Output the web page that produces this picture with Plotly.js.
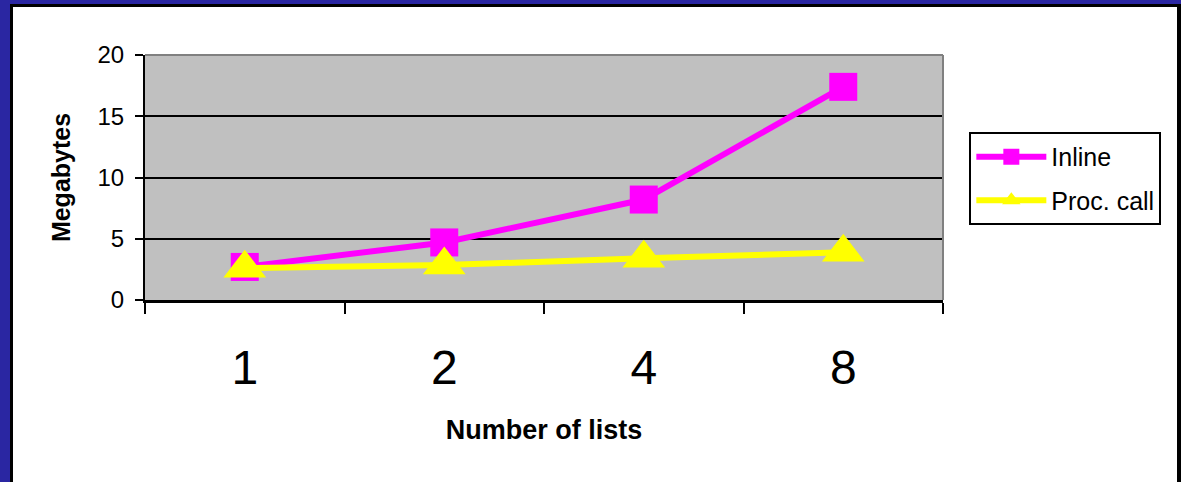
<!DOCTYPE html>
<html>
<head>
<meta charset="utf-8">
<script src="https://cdn.plot.ly/plotly-3.0.1.min.js"></script>
<style>
  html, body { margin: 0; padding: 0; width: 1181px; height: 482px; overflow: hidden; background: #ffffff; }
  #chart { position: absolute; left: 0; top: 0; width: 1181px; height: 482px; }
  .fr { position: absolute; }
</style>
</head>
<body>
<div id="chart"></div>
<div class="fr" style="left:0;top:0;width:10px;height:482px;background:#2a26a2;"></div>
<div class="fr" style="left:0;top:0;width:1181px;height:4px;background:#2a26a2;"></div>
<div class="fr" style="left:10px;top:4px;width:3px;height:478px;background:#000;"></div>
<div class="fr" style="left:10px;top:4px;width:1171px;height:3px;background:#000;"></div>
<div class="fr" style="left:1177px;top:4px;width:4px;height:478px;background:#000;"></div>
<script>
const categories = ['1', '2', '4', '8'];
const inlineValues = [2.7, 4.7, 8.2, 17.4];
const procCallValues = [2.6, 2.85, 3.4, 3.9];
const yTickValues = [0, 5, 10, 15, 20];

const FONT = 'Arial, "Liberation Sans", sans-serif';

const traces = [
  {
    x: categories, y: inlineValues, name: 'Inline', type: 'scatter', mode: 'lines+markers',
    legendgroup: 'a',
    line: { color: '#ff00ff', width: 6 },
    marker: { symbol: 'square', size: 28, color: '#ff00ff' }
  },
  {
    x: categories, y: procCallValues, name: 'Proc. call', type: 'scatter', mode: 'lines+markers',
    legendgroup: 'b',
    line: { color: '#ffff00', width: 6 },
    marker: { symbol: 'triangle-up', size: 37, color: '#ffff00' }
  }
];

const layout = {
  width: 1181, height: 482,
  margin: { l: 145, r: 238, t: 55, b: 182 },
  paper_bgcolor: '#ffffff',
  plot_bgcolor: '#c0c0c0',
  showlegend: true,
  font: { family: FONT, color: '#000000' },
  xaxis: {
    type: 'category',
    range: [-0.5, 3.5],
    tickson: 'boundaries',
    ticks: 'outside', ticklen: 11, tickwidth: 2, tickcolor: '#000',
    showline: true, linecolor: '#000', linewidth: 3,
    showgrid: false, zeroline: false,
    tickfont: { family: '"Liberation Sans Narrow", ' + FONT, size: 48 },
    ticklabelstandoff: 23,
    title: { text: 'Number of lists', font: { family: FONT, size: 27, weight: 'bold' }, standoff: 28 }
  },
  yaxis: {
    range: [0, 20],
    tickvals: yTickValues,
    ticktext: yTickValues.map(String),
    ticks: 'outside', ticklen: 8, tickwidth: 2, tickcolor: '#000',
    showline: true, linecolor: '#000', linewidth: 2,
    showgrid: true, gridcolor: '#000', gridwidth: 2,
    zeroline: false,
    tickfont: { family: FONT, size: 24 },
    ticklabelstandoff: 6,
    title: { text: 'Megabytes', font: { family: FONT, size: 25, weight: 'bold' }, standoff: 20 }
  },
  legend: {
    x: 1.033, y: 0.686, xanchor: 'left', yanchor: 'top',
    bgcolor: '#ffffff', bordercolor: '#000', borderwidth: 2,
    font: { family: FONT, size: 25 },
    itemwidth: 70,
    traceorder: 'grouped',
    tracegroupgap: 8
  },
  shapes: [
    { type: 'line', xref: 'paper', yref: 'paper', x0: 0, x1: 1, y0: 1, y1: 1, line: { color: '#808080', width: 2 } },
    { type: 'line', xref: 'paper', yref: 'paper', x0: 1, x1: 1, y0: 0, y1: 1, line: { color: '#808080', width: 2 } }
  ]
};

Plotly.newPlot('chart', traces, layout, { displayModeBar: false, staticPlot: true });
</script>
</body>
</html>
